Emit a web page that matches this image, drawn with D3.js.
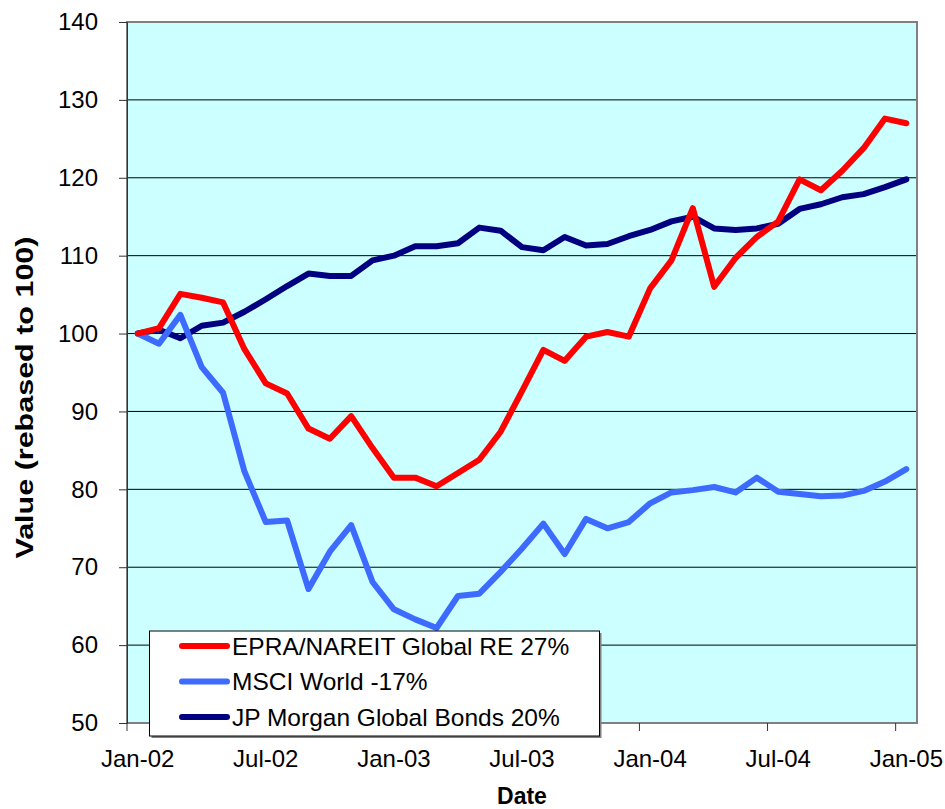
<!DOCTYPE html>
<html>
<head>
<meta charset="utf-8">
<script src="https://cdn.jsdelivr.net/npm/d3@7"></script>
<style>
  body { margin: 0; background: #fff; }
  svg text { font-family: Arial, "Liberation Sans", sans-serif; fill: #000; }
</style>
</head>
<body>
<svg id="chart" width="945" height="809"></svg>
<script>
// monthly categories, Jan-02 .. Jan-05
const months = ["Jan-02","Feb-02","Mar-02","Apr-02","May-02","Jun-02","Jul-02","Aug-02","Sep-02","Oct-02","Nov-02","Dec-02",
  "Jan-03","Feb-03","Mar-03","Apr-03","May-03","Jun-03","Jul-03","Aug-03","Sep-03","Oct-03","Nov-03","Dec-03",
  "Jan-04","Feb-04","Mar-04","Apr-04","May-04","Jun-04","Jul-04","Aug-04","Sep-04","Oct-04","Nov-04","Dec-04","Jan-05"];
const tickMonths = ["Jan-02","Jul-02","Jan-03","Jul-03","Jan-04","Jul-04","Jan-05"];
const yTicks = [50,60,70,80,90,100,110,120,130,140];

const epra = [100,100.7,105.1,104.6,104.0,98.0,93.6,92.3,87.8,86.5,89.4,85.3,
  81.5,81.5,80.4,82.1,83.8,87.4,92.6,97.9,96.5,99.6,100.2,99.6,
  105.8,109.4,116.1,106.0,109.7,112.4,114.4,119.8,118.4,120.9,123.8,127.6,127.0];
const msci = [100,98.7,102.4,95.7,92.4,82.3,75.8,76.0,67.2,72.0,75.4,68.1,
  64.6,63.3,62.2,66.3,66.6,69.4,72.4,75.6,71.7,76.2,75.0,75.8,
  78.2,79.6,79.9,80.3,79.6,81.5,79.7,79.4,79.1,79.2,79.8,81.0,82.6];
const jpm = [100,100.5,99.4,101.0,101.4,102.8,104.4,106.1,107.7,107.4,107.4,109.4,
  110.0,111.2,111.2,111.6,113.6,113.2,111.1,110.7,112.4,111.3,111.5,112.5,
  113.3,114.4,115.0,113.5,113.3,113.5,114.1,116.0,116.6,117.5,117.9,118.8,119.8];

const seriesNames = ["EPRA/NAREIT Global RE 27%","MSCI World -17%","JP Morgan Global Bonds 20%"];
const seriesColors = ["#ff0000","#3d6bff","#000080"];
const seriesValues = [epra, msci, jpm];

const plot = {left: 127, right: 917, top: 22, bottom: 723};
const svg = d3.select("#chart");

const xScale = d3.scaleBand().domain(months).range([plot.left, plot.right]);
const yScale = d3.scaleLinear().domain([50, 140]).range([plot.bottom, plot.top]);
const bw = xScale.bandwidth();

// plot background + grid
function draw_Background() {
  svg.append("rect")
    .attr("x", plot.left).attr("y", plot.top)
    .attr("width", plot.right - plot.left)
    .attr("height", plot.bottom - plot.top)
    .style("fill", "#ccffff");

  svg.selectAll(".grid")
    .data(yTicks.slice(1, -1))
    .enter()
    .append("line")
    .attr("class", "grid")
    .attr("x1", plot.left).attr("x2", plot.right)
    .attr("y1", d => yScale(d)).attr("y2", d => yScale(d))
    .style("stroke", "#000")
    .style("stroke-width", 1);

  svg.append("rect")
    .attr("x", plot.left).attr("y", plot.top)
    .attr("width", plot.right - plot.left)
    .attr("height", plot.bottom - plot.top)
    .style("fill", "none")
    .style("stroke", "#808080")
    .style("stroke-width", 2);
}

// axes
function draw_Axis() {
  const yAxis = d3.axisLeft(yScale)
    .tickValues(yTicks)
    .tickSize(8)
    .tickPadding(21);
  const gy = svg.append("g")
    .attr("transform", `translate(${plot.left},0)`)
    .call(yAxis);
  gy.select(".domain").style("stroke", "#333");
  gy.selectAll(".tick line").style("stroke", "#333");
  gy.selectAll("text").style("font-size", "24px").style("fill", "#000");

  // labels centered on the month, marks on its left edge
  const xAxis = d3.axisBottom(xScale)
    .tickValues(tickMonths)
    .tickSize(0)
    .tickPadding(27);
  const gx = svg.append("g")
    .attr("transform", `translate(0,${plot.bottom})`)
    .call(xAxis);
  gx.select(".domain").remove();
  gx.selectAll("text").style("font-size", "24px").style("fill", "#000");

  svg.selectAll(".xmark")
    .data(tickMonths)
    .enter()
    .append("line")
    .attr("class", "xmark")
    .attr("x1", d => xScale(d)).attr("x2", d => xScale(d))
    .attr("y1", plot.bottom).attr("y2", plot.bottom + 8)
    .style("stroke", "#333");
}

function draw_Titles() {
  svg.append("text")
    .attr("transform", `translate(33,${(plot.top + plot.bottom) / 2 + 25}) rotate(-90)`)
    .attr("text-anchor", "middle")
    .attr("textLength", 322)
    .attr("lengthAdjust", "spacingAndGlyphs")
    .style("font-size", "24px")
    .style("font-weight", "bold")
    .text("Value (rebased to 100)");

  svg.append("text")
    .attr("x", (plot.left + plot.right) / 2)
    .attr("y", 804)
    .attr("text-anchor", "middle")
    .style("font-size", "23px")
    .style("font-weight", "bold")
    .text("Date");
}

function draw_Lines() {
  const line = d3.line()
    .x((d, i) => xScale(months[i]) + bw / 2)
    .y(d => yScale(d));
  // bonds first so the red line sits on top
  [2, 1, 0].forEach(k => {
    svg.append("path")
      .datum(seriesValues[k])
      .attr("d", line)
      .style("fill", "none")
      .style("stroke", seriesColors[k])
      .style("stroke-width", 6)
      .style("stroke-linejoin", "round")
      .style("stroke-linecap", "round");
  });
}

function draw_Legend() {
  const lx = 149.5, ly = 631, lw = 450, lh = 105;
  svg.append("rect")
    .attr("x", lx + 2).attr("y", ly + 2)
    .attr("width", lw).attr("height", lh)
    .style("fill", "#808080");
  svg.append("rect")
    .attr("x", lx).attr("y", ly)
    .attr("width", lw).attr("height", lh)
    .style("fill", "#fff")
    .style("stroke", "#000")
    .style("stroke-width", 1);

  const rows = svg.selectAll(".legend-row")
    .data(seriesNames)
    .enter()
    .append("g")
    .attr("class", "legend-row")
    .attr("transform", (d, i) => `translate(0,${646 + i * 35.5})`);
  rows.append("line")
    .attr("x1", 182).attr("x2", 227)
    .attr("y1", 0).attr("y2", 0)
    .style("stroke", (d, i) => seriesColors[i])
    .style("stroke-width", 6)
    .style("stroke-linecap", "round");
  rows.append("text")
    .attr("x", 232)
    .attr("y", 0)
    .attr("dy", "0.36em")
    .style("font-size", "24.5px")
    .text(d => d);
}

draw_Background();
draw_Lines();
draw_Axis();
draw_Titles();
draw_Legend();
</script>
</body>
</html>
